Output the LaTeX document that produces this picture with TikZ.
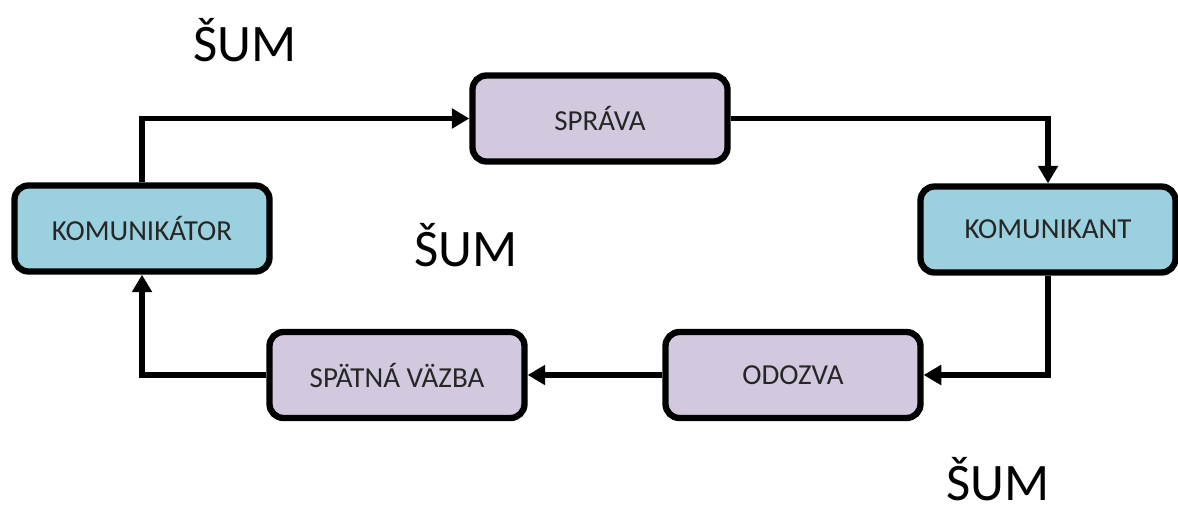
\documentclass[tikz,border=0pt]{standalone}
\usepackage{fontspec}
\setmainfont{Carlito}
\usepackage{tikz}
\usetikzlibrary{positioning, arrows.meta}

\definecolor{blueboxfill}{RGB}{155,208,222}
\definecolor{violetboxfill}{RGB}{211,201,223}

\begin{document}
\begin{tikzpicture}[>={Triangle[length=10pt,width=11pt]}, line width=3pt,
    blockbox/.style={draw, line width=3.6pt, rounded corners=8pt, minimum width=5.1cm, minimum height=1.72cm, font=\fontsize{16.5}{18}\selectfont, text=black!85},
    noise/.style={inner sep=0pt, font=\fontsize{30}{32}\selectfont}]
    \useasboundingbox (0,0) rectangle (23.56,10.3);

    % Define nodes
    \node[blockbox, fill=blueboxfill] (komunikator) at (2.84,5.73) {KOMUNIKÁTOR};
    \node[blockbox, fill=violetboxfill] (sprava) at (12.0,7.93) {SPRÁVA};
    \node[blockbox, fill=blueboxfill] (komunikant) at (20.96,5.71) {KOMUNIKANT};
    \node[blockbox, fill=violetboxfill] (odozva) at (15.86,2.8) {ODOZVA};
    \node[blockbox, fill=violetboxfill] (spatna) at (7.94,2.8) {SPÄTNÁ VÄZBA};

    % Noise labels
    \node[noise] (sum1) at (4.9,9.5) {ŠUM};
    \node[noise] (sum2) at (9.32,5.4) {ŠUM};
    \node[noise, anchor=base] (sum3) at (19.96,0.3) {ŠUM};

    % Draw edges with arrows
    \draw[->] (komunikator.north) |- (sprava.west);
    \draw[->] (sprava.east) -| (komunikant.north);
    \draw[->] (komunikant.south) |- (odozva.east);
    \draw[->] (odozva.west) -- (spatna.east);
    \draw[->] (spatna.west) -| (komunikator.south);

\end{tikzpicture}
\end{document}
